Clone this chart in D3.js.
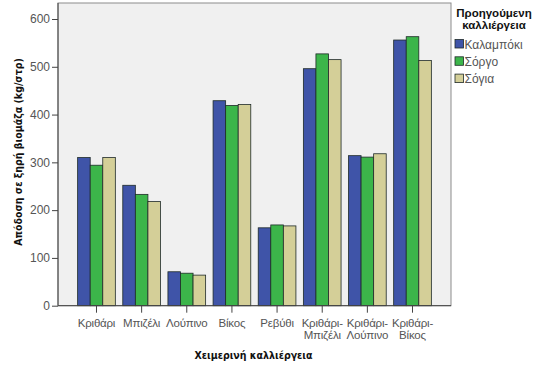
<!DOCTYPE html>
<html><head><meta charset="utf-8">
<script src="https://cdn.jsdelivr.net/npm/d3@7"></script>
<style>body{margin:0;background:#fff}svg{display:block}</style>
</head><body><svg id="c" width="538" height="370"></svg>
<script>
const categories = ["Κριθάρι","Μπιζέλι","Λούπινο","Βίκος","Ρεβύθι","Κριθάρι-Μπιζέλι","Κριθάρι-Λούπινο","Κριθάρι-Βίκος"];
const seriesNames = ["Καλαμπόκι","Σόργο","Σόγια"];
const kalampoki = [310, 252, 71, 429, 163, 496, 314, 556];
const sorgo     = [294, 233, 68, 419, 169, 527, 311, 563];
const sogia     = [310, 218, 64, 421, 167, 515, 318, 513];
const yTicks = [0,100,200,300,400,500,600];
const colors = ["#3f54a8","#3cb54a","#d4cf98"];
const series = [kalampoki, sorgo, sogia];

const svg = d3.select("#c");
const L=58, R=451, T=3, B=305.7;
const y = d3.scaleLinear().domain([0,633.5]).range([B,T]);
const x = d3.scaleBand().domain(categories).range([L,R]).paddingInner(0.165).paddingOuter(0.435);
const xs = d3.scaleBand().domain(d3.range(3)).range([0,x.bandwidth()]);

svg.append("rect").attr("x",L).attr("y",T).attr("width",R-L).attr("height",B-T)
  .attr("fill","#f0f0f0").attr("stroke","#8c8c8c").attr("stroke-width",1);

const g = svg.append("g");
categories.forEach((c,i)=>{
  series.forEach((s,j)=>{
    g.append("rect").attr("x",x(c)+xs(j)).attr("y",y(s[i])).attr("width",xs.bandwidth()).attr("height",B-y(s[i]))
      .attr("fill",colors[j]).attr("stroke","#1e2a28").attr("stroke-width",0.8);
  });
});

// y axis
const ya = svg.append("g").attr("transform",`translate(${L},0)`).call(d3.axisLeft(y).tickValues(yTicks).tickSize(6).tickSizeOuter(0));
ya.select(".domain").remove();
ya.selectAll("line").attr("stroke","#444");
ya.selectAll("text").attr("fill","#555").attr("font-family","Liberation Sans, Arial").attr("font-size","12px").attr("dx","1");
svg.append("line").attr("x1",L).attr("x2",L).attr("y1",T).attr("y2",B).attr("stroke","#444");

// x axis
const xa = svg.append("g").attr("transform",`translate(0,${B})`).call(d3.axisBottom(x).tickSize(7).tickSizeOuter(0).tickFormat(""));
xa.select(".domain").remove();
xa.selectAll("line").attr("stroke","#444");
svg.append("line").attr("x1",L).attr("x2",R).attr("y1",B).attr("y2",B).attr("stroke","#444");
categories.forEach(c=>{
  const parts = c.includes("-") ? [c.split("-")[0]+"-", c.split("-")[1]] : [c];
  const t = svg.append("text").attr("x",x(c)+x.bandwidth()/2).attr("y",327).attr("text-anchor","middle")
    .attr("fill","#555").attr("font-family","Liberation Sans, Arial").attr("font-size","11.5px").attr("letter-spacing","-0.2");
  parts.forEach((p,k)=>t.append("tspan").attr("x",x(c)+x.bandwidth()/2).attr("dy",k?12:0).text(p));
});

// axis titles
svg.append("text").attr("x",253.5).attr("y",359).attr("text-anchor","middle")
  .attr("font-family","DejaVu Sans Condensed, DejaVu Sans").attr("font-weight","bold").attr("font-size","10.5px").attr("fill","#111")
  .text("Χειμερινή καλλιέργεια");
svg.append("text").attr("transform","translate(22,152) rotate(-90)").attr("text-anchor","middle")
  .attr("font-family","DejaVu Sans Condensed, DejaVu Sans").attr("font-weight","bold").attr("font-size","10.5px").attr("fill","#111")
  .text("Απόδοση σε ξηρή βιομάζα (kg/στρ)");

// legend
const lg = svg.append("g");
["Προηγούμενη","καλλιέργεια"].forEach((t,k)=>lg.append("text").attr("x",494).attr("y",16.5+k*12.5).attr("text-anchor","middle")
  .attr("font-family","Liberation Sans, Arial").attr("font-weight","bold").attr("font-size","11.5px").attr("fill","#111").text(t));
seriesNames.forEach((n,j)=>{
  lg.append("rect").attr("x",455).attr("y",39.5+j*17.3).attr("width",8.5).attr("height",8.5)
    .attr("fill",colors[j]).attr("stroke","#1e2a28").attr("stroke-width",0.8);
  lg.append("text").attr("x",464.5).attr("y",48.5+j*17.3).attr("font-family","Liberation Sans, Arial").attr("font-size","12px")
    .attr("fill","#555").text(n);
});
</script></body></html>
